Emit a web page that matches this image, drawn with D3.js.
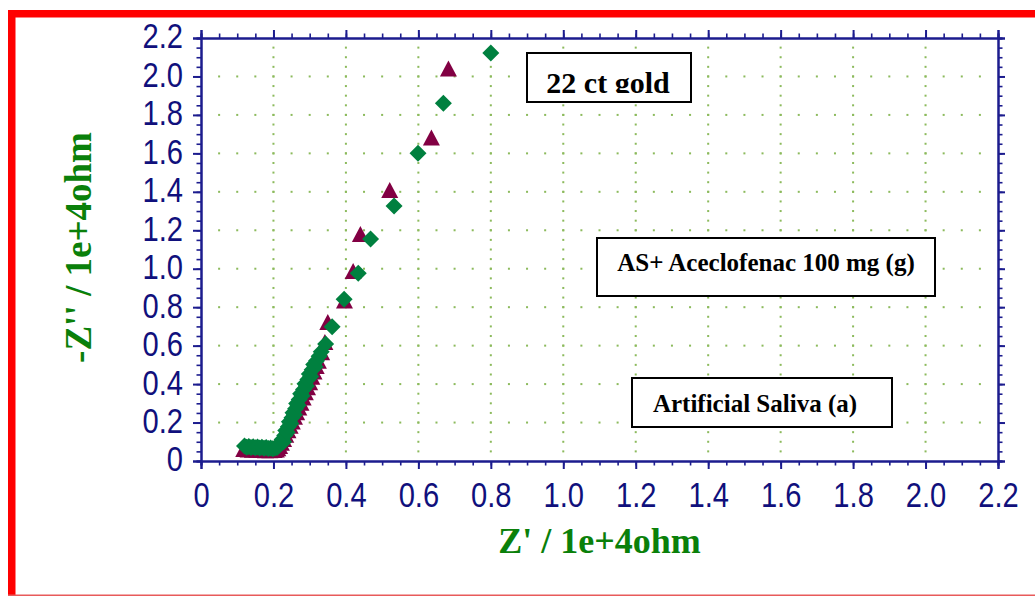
<!DOCTYPE html>
<html>
<head>
<meta charset="utf-8">
<script src="https://cdn.jsdelivr.net/npm/d3@7"></script>
<style>
  html, body { margin: 0; padding: 0; background: #fff; }
  svg { display: block; }
</style>
</head>
<body>
<svg id="chart" width="1035" height="596"></svg>
<script>
// ---- data (Z' and -Z'' in units of 1e+4 ohm) ----
const triangleSeries = [
  [0.118,0.062],[0.124,0.066],[0.130,0.060],[0.136,0.064],[0.142,0.059],[0.148,0.063],
  [0.154,0.058],[0.160,0.062],[0.166,0.057],[0.172,0.061],[0.178,0.056],[0.184,0.060],
  [0.190,0.056],[0.196,0.059],[0.202,0.057],[0.208,0.060],[0.212,0.066],[0.217,0.078],
  [0.222,0.095],[0.228,0.115],[0.234,0.137],[0.240,0.160],[0.246,0.183],[0.252,0.206],
  [0.258,0.230],[0.264,0.254],[0.270,0.278],[0.276,0.303],[0.282,0.330],[0.288,0.357],
  [0.294,0.384],[0.300,0.410],[0.306,0.438],[0.312,0.466],[0.318,0.494],[0.324,0.522],
  [0.333,0.565],[0.342,0.619],[0.350,0.723],[0.396,0.835],[0.420,0.988],[0.440,1.180],
  [0.521,1.409],[0.636,1.682],[0.683,2.042]
];
const diamondSeries = [
  [0.120,0.078],[0.126,0.072],[0.132,0.076],[0.138,0.070],[0.144,0.074],[0.150,0.069],
  [0.156,0.073],[0.162,0.067],[0.168,0.071],[0.174,0.066],[0.180,0.070],[0.186,0.065],
  [0.192,0.068],[0.198,0.064],[0.204,0.067],[0.210,0.070],[0.215,0.080],[0.221,0.092],
  [0.224,0.112],[0.228,0.100],[0.231,0.133],[0.234,0.158],[0.238,0.150],[0.241,0.178],
  [0.244,0.204],[0.248,0.195],[0.251,0.225],[0.254,0.251],[0.258,0.240],[0.261,0.272],
  [0.264,0.299],[0.268,0.290],[0.271,0.320],[0.275,0.350],[0.279,0.340],[0.283,0.372],
  [0.287,0.402],[0.291,0.390],[0.295,0.424],[0.299,0.453],[0.303,0.440],[0.307,0.474],
  [0.311,0.502],[0.315,0.490],[0.319,0.522],[0.326,0.545],[0.332,0.568],[0.344,0.608],
  [0.362,0.698],[0.395,0.841],[0.434,0.976],[0.468,1.154],[0.533,1.326],[0.599,1.600],
  [0.669,1.860],[0.800,2.122]
];
const xTicks = [0,0.2,0.4,0.6,0.8,1.0,1.2,1.4,1.6,1.8,2.0,2.2];
const yTicks = [0,0.2,0.4,0.6,0.8,1.0,1.2,1.4,1.6,1.8,2.0,2.2];
const xTitle = "Z' / 1e+4ohm";
const yTitle = "-Z'' / 1e+4ohm";
const labels = ["22 ct gold", "AS+ Aceclofenac 100 mg (g)", "Artificial Saliva (a)"];

(function () {
const svg = d3.select("#chart");
const W = 1035, H = 596;
const pL = 201, pR = 998, pT = 38, pB = 461;
const axisColor = "#1c1c8e";
const labelColor = "#10107c";
const gridColor = "#8cba5c";
const triColor = "#820043";
const diaColor = "#00803f";
const titleColor = "#0a800a";

const x = d3.scaleLinear().domain([0, 2.2]).range([pL, pR]);
const y = d3.scaleLinear().domain([0, 2.2]).range([pB, pT]);
const minor = d3.range(0, 2.2001, 0.05).map(v => +v.toFixed(2));
const fmt = v => v === 0 ? "0" : d3.format(".1f")(v);

// red frame
svg.append("rect").attr("x", 8).attr("y", 10).attr("width", W - 8).attr("height", 7.5).attr("fill", "#ff0000");
svg.append("rect").attr("x", 8).attr("y", 10).attr("width", 7.5).attr("height", H - 10).attr("fill", "#ff0000");
svg.append("rect").attr("x", 8).attr("y", 594.5).attr("width", W - 8).attr("height", 1.5).attr("fill", "#e85a5a");

// grid dots
const gridG = svg.append("g");
const innerMajor = xTicks.filter(v => v > 0 && v < 2.2);
const innerMinor = minor.filter(v => v > 0 && v < 2.2);
innerMajor.forEach(mx => {
  gridG.selectAll(null).data(innerMinor).enter().append("rect")
    .attr("x", d => x(mx) - 1).attr("y", d => y(d) - 1)
    .attr("width", 2).attr("height", 2).attr("fill", gridColor);
});
innerMajor.forEach(my => {
  gridG.selectAll(null).data(innerMinor).enter().append("rect")
    .attr("x", d => x(d) - 1).attr("y", d => y(my) - 1)
    .attr("width", 2).attr("height", 2).attr("fill", gridColor);
});

function styleAxis(g, sw) {
  g.select(".domain").attr("stroke", axisColor).attr("stroke-width", 2);
  g.selectAll(".tick line").attr("stroke", axisColor).attr("stroke-width", sw);
}
function squeeze(g) {
  g.selectAll(".tick text").each(function() {
    const w = this.getComputedTextLength();
    d3.select(this).attr("textLength", w * 0.82).attr("lengthAdjust", "spacingAndGlyphs");
  });
}
// minor ticks
[["axisBottom", pB], ["axisTop", pT]].forEach(([fn, pos]) => {
  const g = svg.append("g").attr("transform", `translate(0,${pos})`)
    .call(d3[fn](x).tickValues(minor).tickSize(4.5).tickFormat(""));
  styleAxis(g, 1.6);
});
[["axisLeft", pL], ["axisRight", pR]].forEach(([fn, pos]) => {
  const g = svg.append("g").attr("transform", `translate(${pos},0)`)
    .call(d3[fn](y).tickValues(minor).tickSize(4.5).tickFormat(""));
  styleAxis(g, 1.6);
});
// major ticks
const xb = svg.append("g").attr("transform", `translate(0,${pB})`)
  .call(d3.axisBottom(x).tickValues(xTicks).tickSize(8).tickPadding(13).tickFormat(fmt));
styleAxis(xb, 2);
xb.selectAll(".tick text").attr("fill", labelColor).attr("font-family", "'Liberation Sans', Arial, sans-serif").attr("font-size", 35.5);
squeeze(xb);

const xt = svg.append("g").attr("transform", `translate(0,${pT})`)
  .call(d3.axisTop(x).tickValues(xTicks).tickSize(8).tickFormat(""));
styleAxis(xt, 2);

const yl = svg.append("g").attr("transform", `translate(${pL},0)`)
  .call(d3.axisLeft(y).tickValues(yTicks).tickSize(8).tickPadding(10).tickFormat(fmt));
styleAxis(yl, 2);
yl.selectAll(".tick text").attr("fill", labelColor).attr("font-family", "'Liberation Sans', Arial, sans-serif").attr("font-size", 35.5).attr("dy", "0.28em");
squeeze(yl);

const yr = svg.append("g").attr("transform", `translate(${pR},0)`)
  .call(d3.axisRight(y).tickValues(yTicks).tickSize(7).tickFormat(""));
styleAxis(yr, 2);

// markers
const triPath = "M0,-8 L8.5,8 L-8.5,8 Z";
const diaPath = "M0,-8.5 L8.5,0 L0,8.5 L-8.5,0 Z";
svg.append("g").selectAll("path").data(triangleSeries).enter().append("path")
  .attr("d", triPath).attr("fill", triColor)
  .attr("transform", d => `translate(${x(d[0])},${y(d[1])})`);
svg.append("g").selectAll("path").data(diamondSeries).enter().append("path")
  .attr("d", diaPath).attr("fill", diaColor)
  .attr("transform", d => `translate(${x(d[0])},${y(d[1])})`);

// axis titles
const serif = "'Liberation Serif', 'Times New Roman', serif";
svg.append("text").text(xTitle)
  .attr("x", (pL + pR) / 2).attr("y", 553).attr("text-anchor", "middle")
  .attr("font-family", serif).attr("font-weight", "bold")
  .attr("font-size", 36).attr("fill", titleColor);
svg.append("text").text(yTitle)
  .attr("transform", `translate(91,${(pT + pB) / 2 - 2}) rotate(-90)`).attr("text-anchor", "middle")
  .attr("font-family", serif).attr("font-weight", "bold")
  .attr("font-size", 37).attr("fill", titleColor);

// annotation boxes
svg.append("defs").append("clipPath").attr("id", "clipGold")
  .append("rect").attr("x", 527).attr("y", 53).attr("width", 164).attr("height", 40);
function box(x0, y0, w, h) {
  svg.append("rect").attr("x", x0).attr("y", y0).attr("width", w).attr("height", h)
    .attr("fill", "#fff").attr("stroke", "#000").attr("stroke-width", 2);
}
box(527, 53, 164, 49);
svg.append("text").text(labels[0]).attr("x", 608).attr("y", 93)
  .attr("text-anchor", "middle").attr("font-family", serif).attr("font-weight", "bold")
  .attr("font-size", 30).attr("fill", "#000").attr("clip-path", "url(#clipGold)");
box(597, 238, 338, 58);
svg.append("text").text(labels[1]).attr("x", 766).attr("y", 271)
  .attr("text-anchor", "middle").attr("font-family", serif).attr("font-weight", "bold")
  .attr("font-size", 25).attr("fill", "#000");
box(632, 378, 260, 49);
svg.append("text").text(labels[2]).attr("x", 755).attr("y", 412)
  .attr("text-anchor", "middle").attr("font-family", serif).attr("font-weight", "bold")
  .attr("font-size", 25).attr("fill", "#000");
})();
</script>
</body>
</html>
